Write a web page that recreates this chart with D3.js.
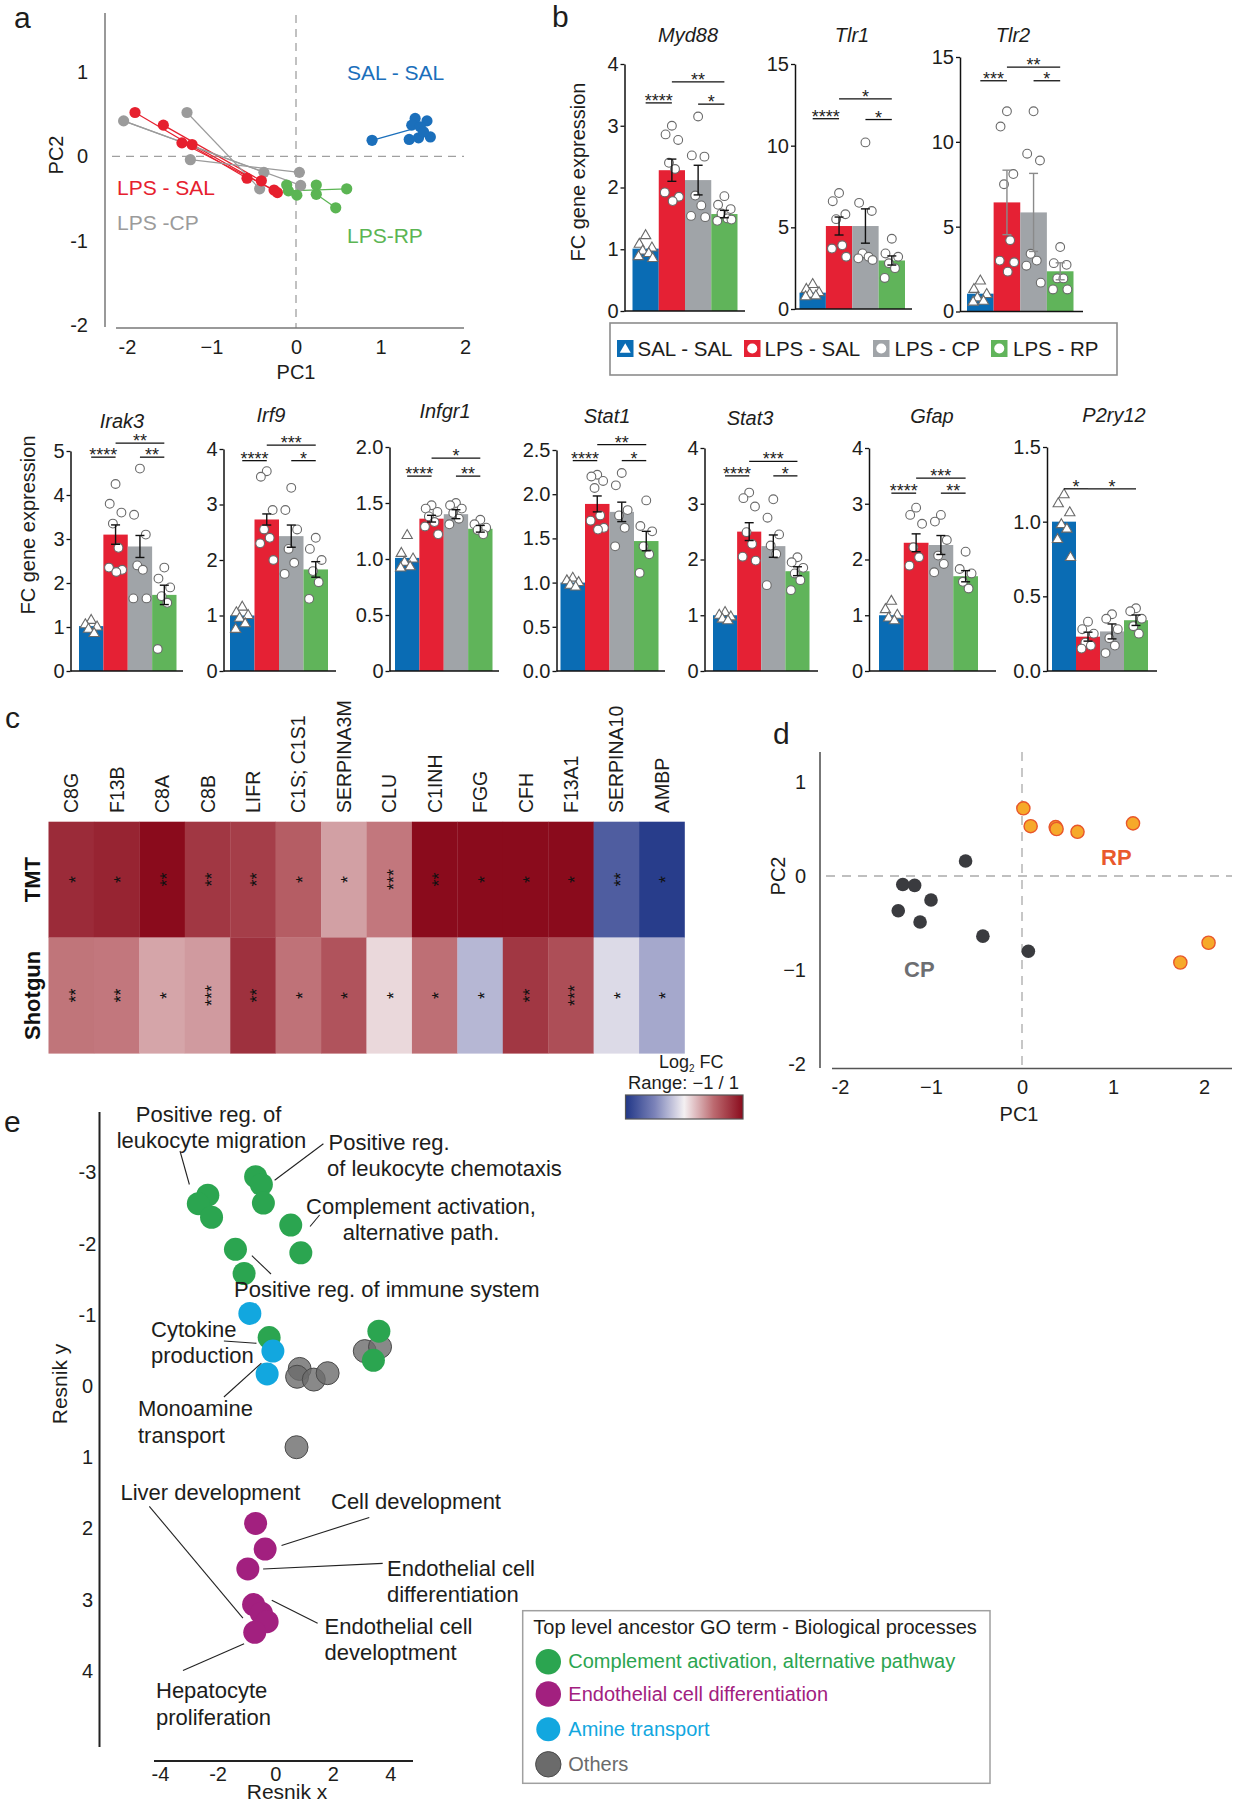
<!DOCTYPE html>
<html><head><meta charset="utf-8">
<script src="https://cdn.jsdelivr.net/npm/d3@7"></script>
<style>body{margin:0;background:#fff}svg{display:block;background:#fff}</style>
</head><body>
<svg id="fig" width="1234" height="1800"></svg>
<script>
// ================= DATA =================
// Panel a : PCA of groups
const pcaGroupNames = ["SAL - SAL", "LPS - SAL", "LPS -CP", "LPS-RP"];
const pcaSalSal = [[0.90,0.19],[1.41,0.45],[1.55,0.42],[1.37,0.37],[1.47,0.35],[1.34,0.20],[1.45,0.22],[1.59,0.23],[1.51,0.29]];
const pcaLpsSal = [[-1.905,0.52],[-1.57,0.37],[-1.35,0.16],[-1.23,0.14],[-0.58,-0.26],[-0.41,-0.29],[-0.26,-0.40],[-0.22,-0.43]];
const pcaLpsCp  = [[-2.04,0.42],[-1.29,0.52],[-1.25,-0.04],[-0.38,-0.19],[-0.43,-0.385],[0.04,-0.19],[0.055,-0.345]];
const pcaLpsRp  = [[-0.11,-0.34],[-0.09,-0.41],[0.01,-0.46],[0.24,-0.34],[0.24,-0.45],[0.60,-0.385],[0.47,-0.61]];
const pcaLinks  = [[[0,4]], [[0,4],[1,5],[2,6],[3,7]], [[0,3],[0,6],[1,4],[2,5]], [[1,5],[4,6]]];
const pcaXTicks = [-2,-1,0,1,2], pcaXTickLabels = ["-2","\u22121","0","1","2"];
const pcaYTicks = [1,0,-1,-2],  pcaYTickLabels = ["1","0","-1","-2"];

// Panel b : qPCR bar charts
const genes  = ["Myd88","Tlr1","Tlr2","Irak3","Irf9","Infgr1","Stat1","Stat3","Gfap","P2ry12"];
const groups = ["SAL - SAL","LPS - SAL","LPS - CP","LPS - RP"];
const barMeans = [
  [1.01,2.28,2.12,1.57],[1.00,5.08,5.08,2.97],[1.05,6.43,5.84,2.37],[1.02,3.10,2.83,1.73],[1.00,2.73,2.43,1.83],
  [1.01,1.36,1.40,1.27],[1.00,1.89,1.80,1.47],[1.00,2.50,2.24,1.79],[1.00,2.30,2.26,1.70],[1.00,0.23,0.265,0.34]];
const barSem = [
  [0.05,0.18,0.24,0.06],[0.08,0.55,1.05,0.28],[0.15,1.90,2.30,0.50],[0.04,0.22,0.25,0.22],[0.04,0.10,0.20,0.14],
  [0.02,0.03,0.04,0.03],[0.02,0.09,0.11,0.11],[0.03,0.16,0.20,0.08],[0.03,0.16,0.17,0.10],[0.05,0.03,0.05,0.035]];
const repSalSal = [[1.22,1.08,1.02,0.97,0.93,0.88,0.85],[1.5,1.2,1.0,0.9,0.8,0.75],[1.8,1.3,1.0,0.8,0.6,0.55],
  [1.15,1.05,1.0,0.95,0.85],[1.15,1.05,1.0,0.95,0.85,0.75],[1.21,1.05,1.0,0.97,0.93,0.92],[1.05,1.02,1.0,0.97,0.95],
  [1.05,1.0,0.97,0.93,0.9],[1.25,1.1,1.0,0.95,0.9],[1.18,1.12,1.06,0.98,0.95,0.88,0.76]];
const repLpsSal = [[3.0,2.86,2.77,2.4,2.3,1.92,1.85,1.78],[7.1,6.6,5.8,5.5,3.9,3.7,3.2],[11.8,10.9,8.1,7.5,4.2,3.0,2.9,2.35],
  [4.25,3.8,3.6,3.35,2.8,2.35,2.3,2.25],[3.6,3.5,2.9,2.55,2.4,2.3,2.0],[1.48,1.45,1.42,1.38,1.33,1.29,1.22],
  [2.22,2.2,2.15,2.07,1.76,1.7,1.62,1.6],[3.2,3.1,2.95,2.49,2.28,2.05,1.98],[2.93,2.8,2.64,2.22,2.04,1.89],[0.33,0.28,0.25,0.19,0.17,0.15]];
const repLpsCp = [[3.15,2.52,2.5,1.87,1.71,1.54,1.52],[10.2,6.5,6.0,3.4,3.2,3.1,3.0],[11.8,9.3,8.9,3.4,3.0,2.7,1.7],
  [4.6,3.55,3.1,2.4,2.3,1.65,1.65],[3.3,2.9,2.55,2.2,1.95,1.75],[1.5,1.48,1.45,1.41,1.36,1.31],
  [2.24,2.1,1.82,1.76,1.62,1.41],[3.08,2.75,2.45,2.25,2.1,1.54],[2.8,2.68,2.35,2.07,1.92,1.77],[0.38,0.35,0.28,0.22,0.17,0.12]];
const repLpsRp = [[1.86,1.72,1.65,1.58,1.5,1.46,1.48],[4.3,3.4,3.2,2.8,2.5,1.9],[3.8,2.85,2.75,1.95,1.95,1.3,1.3],
  [2.35,2.1,1.9,1.7,1.55,0.5],[2.4,2.2,2.0,1.8,1.6,1.3],[1.35,1.31,1.28,1.26,1.22],
  [1.93,1.64,1.58,1.41,1.32,1.11],[2.04,1.95,1.85,1.75,1.63,1.45],[2.14,1.83,1.75,1.6,1.48],[0.42,0.4,0.35,0.3,0.25]];
const yTicks = [[0,1,2,3,4],[0,5,10,15],[0,5,10,15],[0,1,2,3,4,5],[0,1,2,3,4],[0,0.5,1,1.5,2],[0,0.5,1,1.5,2,2.5],[0,1,2,3,4],[0,1,2,3,4],[0,0.5,1,1.5]];
const yTickLabels = [["0","1","2","3","4"],["0","5","10","15"],["0","5","10","15"],["0","1","2","3","4","5"],["0","1","2","3","4"],
  ["0","0.5","1.0","1.5","2.0"],["0.0","0.5","1.0","1.5","2.0","2.5"],["0","1","2","3","4"],["0","1","2","3","4"],["0.0","0.5","1.0","1.5"]];
const sigBrackets = [
  [[0,1,3.37,"****"],[1,3,3.71,"**"],[2,3,3.35,"*"]],
  [[0,1,11.65,"****"],[1,3,12.86,"*"],[2,3,11.6,"*"]],
  [[0,1,13.6,"***"],[1,3,14.4,"**"],[2,3,13.6,"*"]],
  [[0,1,4.86,"****"],[1,3,5.18,"**"],[2,3,4.86,"**"]],
  [[0,1,3.79,"****"],[1,3,4.07,"***"],[2,3,3.79,"*"]],
  [[0,1,1.74,"****"],[1,3,1.90,"*"],[2,3,1.74,"**"]],
  [[0,1,2.38,"****"],[1,3,2.56,"**"],[2,3,2.38,"*"]],
  [[0,1,3.50,"****"],[1,3,3.76,"***"],[2,3,3.50,"*"]],
  [[0,1,3.19,"****"],[1,3,3.46,"***"],[2,3,3.19,"**"]],
  [[0,1,1.22,"*"],[1,3,1.22,"*"]]];

// Panel c : proteomics heatmap
const proteins = ["C8G","F13B","C8A","C8B","LIFR","C1S; C1S1","SERPINA3M","CLU","C1INH","FGG","CFH","F13A1","SERPINA10","AMBP"];
const methods = ["TMT","Shotgun"];
const log2fcTMT     = [0.83,0.87,1.0,0.77,0.73,0.57,0.30,0.45,1.0,1.0,1.0,1.0,-0.75,-0.96];
const log2fcShotgun = [0.46,0.45,0.28,0.32,0.80,0.47,0.62,0.09,0.48,-0.26,0.77,0.65,-0.10,-0.33];
const sigTMT     = ["*","*","**","**","**","*","*","***","**","*","*","*","**","*"];
const sigShotgun = ["**","**","*","***","**","*","*","*","*","*","**","***","*","*"];

// Panel d : PCA CP vs RP
const cpPC1 = [-0.62,-1.31,-1.18,-1.00,-1.36,-1.12,-0.43,0.07];
const cpPC2 = [0.16,-0.09,-0.10,-0.255,-0.37,-0.49,-0.64,-0.80];
const rpPC1 = [0.015,0.095,0.37,0.38,0.61,1.22,1.74,2.05];
const rpPC2 = [0.72,0.53,0.52,0.50,0.47,0.56,-0.92,-0.71];
const pcdXTicks = [-2,-1,0,1,2], pcdXTickLabels = ["-2","\u22121","0","1","2"];
const pcdYTicks = [1,0,-1,-2],  pcdYTickLabels = ["1","0","\u22121","-2"];

// Panel e : GO semantic space (Resnik)
const goCategories = ["Complement activation, alternative pathway","Endothelial cell differentiation","Amine transport","Others"];
const goOthers = [[0.85,-0.24],[0.76,-0.13],[1.34,-0.09],[1.82,-0.18],[3.11,-0.49],[3.64,-0.55],[0.74,0.86]];
const goComplement = [[-2.34,-2.68],[-2.67,-2.56],[-2.21,-2.37],[-0.68,-2.94],[-0.48,-2.83],[-0.41,-2.57],[0.54,-2.26],[0.89,-1.87],[-1.38,-1.92],[-1.08,-1.58],[-0.21,-0.68],[3.60,-0.77],[3.41,-0.36]];
const goAmine = [[-0.88,-1.02],[-0.08,-0.49],[-0.28,-0.17]];
const goEndothelial = [[-0.68,1.93],[-0.35,2.29],[-0.95,2.57],[-0.75,3.07],[-0.48,3.19],[-0.28,3.31],[-0.71,3.46]];
const eXTicks = [-4,-2,0,2,4], eXTickLabels = ["-4","-2","0","2","4"];
const eYTicks = [-3,-2,-1,0,1,2,3,4], eYTickLabels = ["-3","-2","-1","0","1","2","3","4"];

// ================= DRAWING =================
const svg = d3.select("#fig");
const F = '"Liberation Sans", Arial, Helvetica, sans-serif';
const INK = "#1d1d1b";
function txt(g, x, y, s, o = {}) {
  const t = g.append("text").attr("x", x).attr("y", y).text(s)
    .attr("font-family", F).attr("font-size", o.size || 20).attr("fill", o.fill || INK);
  if (o.anchor) t.attr("text-anchor", o.anchor);
  if (o.weight) t.attr("font-weight", o.weight);
  if (o.style) t.attr("font-style", o.style);
  if (o.rotate) t.attr("transform", `rotate(${o.rotate},${x},${y})`);
  return t;
}
function line(g, x1, y1, x2, y2, stroke, w, dash) {
  const l = g.append("line").attr("x1", x1).attr("y1", y1).attr("x2", x2).attr("y2", y2)
    .attr("stroke", stroke).attr("stroke-width", w);
  if (dash) l.attr("stroke-dasharray", dash);
  return l;
}
function styleAxis(sel, size) {
  sel.select(".domain").remove();
  sel.selectAll("text").attr("font-family", F).attr("font-size", size || 20).attr("fill", INK);
}

// panel letters
txt(svg, 14, 28, "a", {size: 30});
txt(svg, 552, 27, "b", {size: 30});
txt(svg, 5, 728, "c", {size: 30});
txt(svg, 773, 744, "d", {size: 30});
txt(svg, 4, 1132, "e", {size: 30});

// ---------- Panel a ----------
(function () {
  const g = svg.append("g");
  const x = d3.scaleLinear().domain([-2, 2]).range([127, 465]);
  const y = d3.scaleLinear().domain([-2, 1]).range([325, 72]);
  const cols = ["#1b6fbb", "#e6202e", "#9b9b9b", "#5bb553"];
  line(g, 112, y(0), 464, y(0), "#a0a0a0", 1.3, "8,6");
  line(g, x(0), 15, x(0), 328, "#a0a0a0", 1.3, "8,6");
  line(g, 105, 13, 105, 327, "#777", 1.5);
  line(g, 116, 328, 464, 328, "#777", 1.5);
  g.append("g").attr("transform", "translate(0,328)")
    .call(d3.axisBottom(x).tickValues(pcaXTicks).tickFormat((d, i) => pcaXTickLabels[i]).tickSize(0).tickPadding(12))
    .call(s => styleAxis(s));
  g.append("g").attr("transform", "translate(105,0)")
    .call(d3.axisLeft(y).tickValues(pcaYTicks).tickFormat((d, i) => pcaYTickLabels[i]).tickSize(0).tickPadding(17))
    .call(s => styleAxis(s));
  txt(g, 296, 379, "PC1", {anchor: "middle"});
  txt(g, 63, 155, "PC2", {anchor: "middle", rotate: -90});
  const sets = [pcaSalSal, pcaLpsSal, pcaLpsCp, pcaLpsRp];
  sets.forEach((set, gi) => pcaLinks[gi].forEach(([i, j]) =>
    line(g, x(set[i][0]), y(set[i][1]), x(set[j][0]), y(set[j][1]), cols[gi], 1.2)));
  [2, 1, 3, 0].forEach(gi => g.append("g").selectAll("circle").data(sets[gi]).join("circle")
    .attr("cx", d => x(d[0])).attr("cy", d => y(d[1])).attr("r", 5.6).attr("fill", cols[gi]));
  txt(g, 347, 80, pcaGroupNames[0], {fill: cols[0], size: 21});
  txt(g, 117, 195, pcaGroupNames[1], {fill: cols[1], size: 21});
  txt(g, 117, 230, pcaGroupNames[2], {fill: cols[2], size: 21});
  txt(g, 347, 243, pcaGroupNames[3], {fill: cols[3], size: 21});
})();

// ---------- Panel b ----------
const groupColors = ["#0a6cb4", "#e52134", "#a0a4a8", "#60b45a"];
const layoutB = [
  {ax: 624.5, b0: 632.5, b1: 737.5, xEnd: 745, y0: 311, y1: 64, tx: 688, ty: 42},
  {ax: 795, b0: 799.5, b1: 905, xEnd: 912, y0: 309, y1: 64, tx: 852, ty: 42},
  {ax: 960, b0: 967, b1: 1073.5, xEnd: 1083, y0: 311.5, y1: 57, tx: 1013, ty: 42, err: "#8a8a8a"},
  {ax: 70.5, b0: 79, b1: 176.5, xEnd: 183, y0: 671, y1: 451, tx: 122, ty: 428},
  {ax: 223.5, b0: 230, b1: 328, xEnd: 336, y0: 671, y1: 449, tx: 271, ty: 422},
  {ax: 389.5, b0: 395, b1: 492.5, xEnd: 499, y0: 671, y1: 447, tx: 445, ty: 418},
  {ax: 556.5, b0: 560.5, b1: 658.5, xEnd: 665, y0: 671, y1: 450, tx: 607, ty: 423},
  {ax: 704.5, b0: 713, b1: 809.5, xEnd: 818, y0: 671, y1: 448, tx: 750, ty: 425},
  {ax: 869, b0: 879, b1: 978, xEnd: 996, y0: 671, y1: 448, tx: 932, ty: 423},
  {ax: 1047, b0: 1052, b1: 1148, xEnd: 1157, y0: 671, y1: 447, tx: 1114, ty: 422}];
const jitter = [0, -0.24, 0.24, -0.11, 0.12, -0.27, 0.27, 0.03];
const reps = [repSalSal, repLpsSal, repLpsCp, repLpsRp];
genes.forEach((gene, i) => {
  const L = layoutB[i];
  const g = svg.append("g");
  const ticks = yTicks[i];
  const x = d3.scaleBand().domain(d3.range(4)).range([L.b0, L.b1]).padding(0);
  const y = d3.scaleLinear().domain([0, ticks[ticks.length - 1]]).range([L.y0, L.y1]);
  const bw = x.bandwidth();
  g.append("g").selectAll("rect").data(barMeans[i]).join("rect")
    .attr("x", (d, j) => x(j)).attr("width", bw).attr("y", d => y(d)).attr("height", d => L.y0 - y(d))
    .attr("fill", (d, j) => groupColors[j]);
  reps.forEach((rep, j) => {
    const cxs = rep[i].map((v, k) => x(j) + bw / 2 + jitter[k % jitter.length] * bw);
    if (j === 0) {
      g.append("g").selectAll("path").data(rep[i]).join("path")
        .attr("d", d3.symbol(d3.symbolTriangle).size(46))
        .attr("transform", (d, k) => `translate(${cxs[k]},${y(d)})`)
        .attr("fill", "#fff").attr("stroke", "#6a6a6a").attr("stroke-width", 1.1);
    } else {
      g.append("g").selectAll("circle").data(rep[i]).join("circle")
        .attr("cx", (d, k) => cxs[k]).attr("cy", d => y(d)).attr("r", 4.4)
        .attr("fill", "#fff").attr("stroke", "#6a6a6a").attr("stroke-width", 1.1);
    }
  });
  barMeans[i].forEach((m, j) => {
    if (j === 0) return;
    const cx = x(j) + bw / 2, s = barSem[i][j], ec = L.err || "#111";
    line(g, cx, y(m - s), cx, y(m + s), ec, 1.4);
    line(g, cx - 4.5, y(m + s), cx + 4.5, y(m + s), ec, 1.4);
    line(g, cx - 4.5, y(m - s), cx + 4.5, y(m - s), ec, 1.4);
  });
  const axG = g.append("g").attr("transform", `translate(${L.ax},0)`)
    .call(d3.axisLeft(y).tickValues(ticks).tickFormat((d, k) => yTickLabels[i][k]).tickSize(4).tickSizeOuter(0).tickPadding(2));
  axG.select(".domain").attr("stroke", "#111").attr("stroke-width", 1.5);
  axG.selectAll(".tick line").attr("stroke", "#111").attr("stroke-width", 1.3);
  axG.selectAll("text").attr("font-family", F).attr("font-size", 20).attr("fill", INK);
  line(g, L.ax, L.y0, L.xEnd, L.y0, "#111", 1.6);
  txt(g, L.tx, L.ty, gene, {anchor: "middle", style: "italic", size: 20});
  sigBrackets[i].forEach(([a, b, v, lab]) => {
    const xa = x(a) + bw / 2, xb = x(b) + bw / 2, yy = y(v);
    line(g, xa, yy, xb, yy, "#111", 1.3);
    txt(g, (xa + xb) / 2, yy + 4, lab, {anchor: "middle", size: 18});
  });
});
txt(svg, 585, 172, "FC gene expression", {anchor: "middle", rotate: -90, size: 20});
txt(svg, 35, 525, "FC gene expression", {anchor: "middle", rotate: -90, size: 20});
// legend b
(function () {
  const g = svg.append("g");
  g.append("rect").attr("x", 610).attr("y", 323).attr("width", 507).attr("height", 52)
    .attr("fill", "none").attr("stroke", "#8c8c8c").attr("stroke-width", 1.6);
  const sx = [617, 744, 873, 991], tx = [637.5, 764.5, 894.5, 1013];
  groups.forEach((name, j) => {
    g.append("rect").attr("x", sx[j]).attr("y", 340).attr("width", 16.5).attr("height", 17).attr("fill", groupColors[j]);
    if (j === 0) g.append("path").attr("d", d3.symbol(d3.symbolTriangle).size(52)).attr("transform", `translate(${sx[j] + 8.25},${349.5})`).attr("fill", "#fff");
    else g.append("circle").attr("cx", sx[j] + 8.25).attr("cy", 348.5).attr("r", 5).attr("fill", "#fff");
    txt(g, tx[j], 356, name, {size: 20.5});
  });
})();

// ---------- Panel c ----------
const heatColor = d3.scaleLinear().domain([-1, -0.5, 0, 0.5, 1])
  .range(["#213787", "#7c83b9", "#f4f0f2", "#bc6a70", "#8a0b1c"]).clamp(true);
(function () {
  const g = svg.append("g");
  const x = d3.scaleBand().domain(proteins).range([48.5, 684.5]);
  const y = d3.scaleBand().domain(methods).range([821.7, 1053.3]);
  const vals = [log2fcTMT, log2fcShotgun], sigs = [sigTMT, sigShotgun];
  methods.forEach((m, r) => {
    g.append("g").selectAll("rect").data(vals[r]).join("rect")
      .attr("x", (d, c) => x(proteins[c])).attr("y", y(m)).attr("width", x.bandwidth() + 0.3).attr("height", y.bandwidth() + 0.3)
      .attr("fill", d => heatColor(d));
    sigs[r].forEach((s, c) => {
      const cx = x(proteins[c]) + x.bandwidth() / 2, cy = y(m) + y.bandwidth() / 2;
      g.append("text").attr("transform", `translate(${cx},${cy}) rotate(-90)`).attr("text-anchor", "middle")
        .attr("dy", "0.58em").attr("font-family", F).attr("font-size", 18).attr("fill", "#111").text(s);
    });
    const cy = y(m) + y.bandwidth() / 2;
    g.append("text").attr("transform", `translate(39.5,${cy}) rotate(-90)`).attr("text-anchor", "middle")
      .attr("font-family", F).attr("font-size", 22).attr("font-weight", "bold").attr("fill", "#111").text(m);
  });
  proteins.forEach(p => {
    const cx = x(p) + x.bandwidth() / 2 + 7;
    g.append("text").attr("transform", `translate(${cx},813) rotate(-90)`).attr("font-family", F)
      .attr("font-size", 19.5).attr("fill", INK).text(p);
  });
  // colour bar
  const defs = svg.append("defs");
  const grad = defs.append("linearGradient").attr("id", "hm").attr("x1", "0%").attr("x2", "100%");
  d3.range(0, 1.0001, 0.05).forEach(t => grad.append("stop").attr("offset", `${t * 100}%`).attr("stop-color", heatColor(-1 + 2 * t)));
  g.append("rect").attr("x", 625.5).attr("y", 1095).attr("width", 117.5).attr("height", 24)
    .attr("fill", "url(#hm)").attr("stroke", "#555").attr("stroke-width", 1.2);
  const t1 = g.append("text").attr("x", 659).attr("y", 1068).attr("font-family", F).attr("font-size", 18).attr("fill", INK);
  t1.append("tspan").text("Log");
  t1.append("tspan").attr("font-size", 10).attr("dy", 4).text("2");
  t1.append("tspan").attr("dy", -4).text(" FC");
  g.append("text").attr("x", 628).attr("y", 1089).attr("font-family", F).attr("font-size", 17.5)
    .attr("textLength", 111).attr("lengthAdjust", "spacingAndGlyphs").attr("fill", INK).text("Range: \u22121  /  1");
})();

// ---------- Panel d ----------
(function () {
  const g = svg.append("g");
  const x = d3.scaleLinear().domain([-2, 2]).range([840, 1204]);
  const y = d3.scaleLinear().domain([-2, 1]).range([1064, 782]);
  line(g, 826, y(0), 1232, y(0), "#aaa", 1.3, "9,7");
  line(g, x(0), 752, x(0), 1068, "#aaa", 1.3, "9,7");
  line(g, 820, 752, 820, 1068, "#555", 1.6);
  line(g, 832, 1068.5, 1232, 1068.5, "#555", 1.6);
  g.append("g").attr("transform", "translate(0,1068)")
    .call(d3.axisBottom(x).tickValues(pcdXTicks).tickFormat((d, i) => pcdXTickLabels[i]).tickSize(0).tickPadding(12))
    .call(s => styleAxis(s));
  g.append("g").attr("transform", "translate(820,0)")
    .call(d3.axisLeft(y).tickValues(pcdYTicks).tickFormat((d, i) => pcdYTickLabels[i]).tickSize(0).tickPadding(14))
    .call(s => styleAxis(s));
  txt(g, 1019, 1121, "PC1", {anchor: "middle"});
  txt(g, 785, 876, "PC2", {anchor: "middle", rotate: -90});
  g.append("g").selectAll("circle").data(cpPC1).join("circle")
    .attr("cx", d => x(d)).attr("cy", (d, i) => y(cpPC2[i])).attr("r", 6.8).attr("fill", "#3a3b3f");
  g.append("g").selectAll("circle").data(rpPC1).join("circle")
    .attr("cx", d => x(d)).attr("cy", (d, i) => y(rpPC2[i])).attr("r", 6.6).attr("fill", "#f6a92a")
    .attr("stroke", "#e8562b").attr("stroke-width", 1.4);
  txt(g, 1101, 865, "RP", {weight: "bold", size: 22, fill: "#e9582c"});
  txt(g, 904, 977, "CP", {weight: "bold", size: 22, fill: "#6d6e71"});
})();

// ---------- Panel e ----------
(function () {
  const g = svg.append("g");
  const x = d3.scaleLinear().domain([-4, 4]).range([160, 390.4]);
  const y = d3.scaleLinear().domain([-3, 4]).range([1172.4, 1670.8]);
  line(g, 99.5, 1112, 99.5, 1747, "#222", 2);
  line(g, 154, 1761, 413, 1761, "#222", 2);
  g.append("g").attr("transform", "translate(0,1761)")
    .call(d3.axisBottom(x).tickValues(eXTicks).tickFormat((d, i) => eXTickLabels[i]).tickSize(0).tickPadding(6))
    .call(s => styleAxis(s));
  g.append("g").attr("transform", "translate(99.5,0)")
    .call(d3.axisLeft(y).tickValues(eYTicks).tickFormat((d, i) => eYTickLabels[i]).tickSize(0).tickPadding(3))
    .call(s => { styleAxis(s); s.selectAll("text").attr("text-anchor", "middle").attr("x", -12); });
  txt(g, 287, 1799, "Resnik x", {anchor: "middle", size: 21});
  txt(g, 67, 1384, "Resnik y", {anchor: "middle", rotate: -90, size: 21});
  const eCols = ["#2ba550", "#a2207f", "#12a7df", "#6b6b6b"];
  const sets = [[goOthers, 3], [goComplement, 0], [goAmine, 2], [goEndothelial, 1]];
  sets.forEach(([set, ci]) => {
    g.append("g").selectAll("circle").data(set).join("circle")
      .attr("cx", d => x(d[0])).attr("cy", d => y(d[1])).attr("r", 11.5)
      .attr("fill", eCols[ci]).attr("fill-opacity", ci === 3 ? 0.8 : 1)
      .attr("stroke", ci === 3 ? "#4a4a4a" : "none").attr("stroke-width", 1);
  });
  const eLabels = [
    ["Positive reg. of", 208.5, 1122, "middle"], ["leukocyte migration", 211.5, 1148, "middle"],
    ["Positive reg.", 328.5, 1150, "start"], ["of leukocyte chemotaxis", 327, 1176, "start"],
    ["Complement activation,", 421, 1214, "middle"], ["alternative path.", 421, 1240, "middle"],
    ["Positive reg. of immune system", 234, 1296.5, "start"],
    ["Cytokine", 151, 1337, "start"], ["production", 151, 1362.5, "start"],
    ["Monoamine", 138, 1416, "start"], ["transport", 138, 1443, "start"],
    ["Liver development", 120.5, 1500, "start"], ["Cell development", 331, 1508.5, "start"],
    ["Endothelial cell", 387, 1575.5, "start"], ["differentiation", 387, 1602, "start"],
    ["Endothelial cell", 324.5, 1633.5, "start"], ["developtment", 324.5, 1660, "start"],
    ["Hepatocyte", 156, 1698, "start"], ["proliferation", 156, 1725, "start"]];
  eLabels.forEach(([s, lx, ly, a]) => txt(g, lx, ly, s, {anchor: a, size: 22}));
  const eLeaders = [[180, 1151, -2.98, -2.83], [323.4, 1143.8, -0.02, -2.89], [319.6, 1215, 1.21, -2.24],
    [271, 1274, -0.81, -1.83], [223.9, 1341, -0.65, -0.6], [223.9, 1397, -0.48, -0.32],
    [149.3, 1506.3, -1.12, 3.26], [369.3, 1517.4, 0.22, 2.24], [382.7, 1563.4, -0.42, 2.57],
    [317.6, 1623.2, -0.12, 3.01], [183, 1670.5, -1.08, 3.62]];
  eLeaders.forEach(([px, py, dx, dy]) => line(g, px, py, x(dx), y(dy), "#222", 1.1));
  // legend
  g.append("rect").attr("x", 522.7).attr("y", 1610.7).attr("width", 467.3).attr("height", 172.6)
    .attr("fill", "none").attr("stroke", "#a0a0a0").attr("stroke-width", 1.5);
  txt(g, 533.3, 1634, "Top level ancestor GO term - Biological processes", {size: 20});
  const legText = ["#2ba550", "#a2207f", "#12a7df", "#6b6b6b"];
  const legY = [1661.7, 1694, 1729.3, 1764.3];
  goCategories.forEach((c, i) => {
    g.append("circle").attr("cx", 548.3).attr("cy", legY[i]).attr("r", i === 2 ? 12 : 12.7)
      .attr("fill", eCols[i]).attr("stroke", i === 3 ? "#4a4a4a" : "none");
    txt(g, 568.3, legY[i] + 6.5, c, {size: 20, fill: legText[i]});
  });
})();
</script>
</body></html>
